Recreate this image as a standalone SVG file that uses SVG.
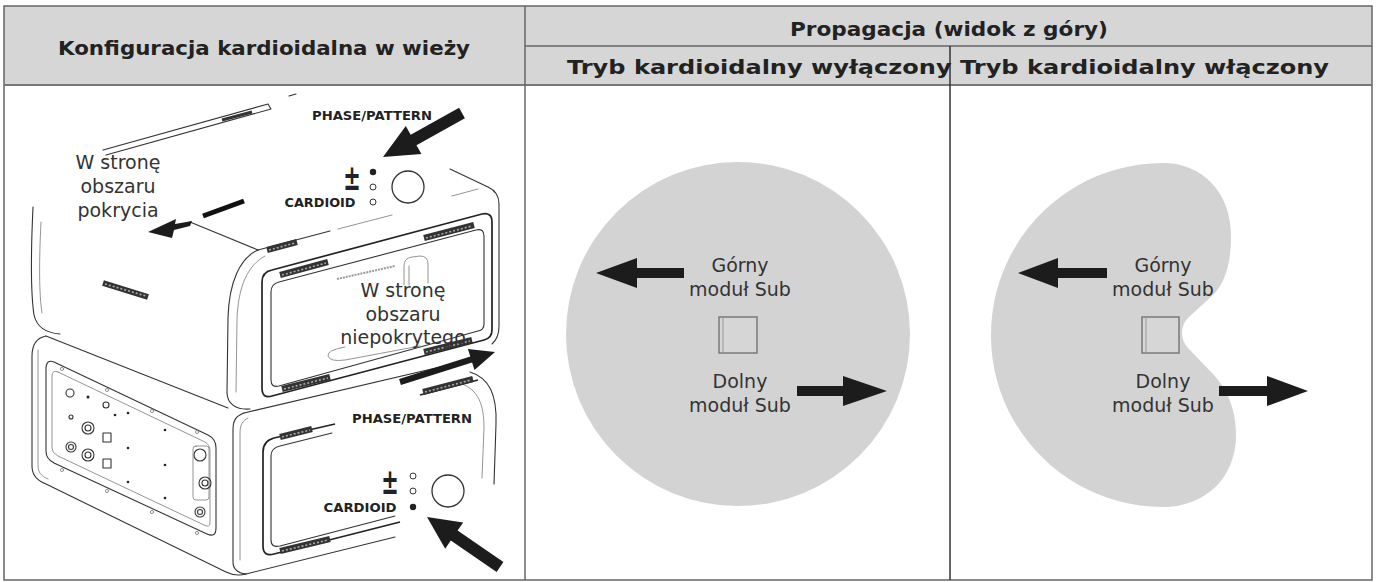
<svg xmlns="http://www.w3.org/2000/svg" width="1376" height="582" viewBox="0 0 1376 582">
<defs>
<style>
.hd{font-family:"DejaVu Sans","Liberation Sans",sans-serif;font-weight:bold;font-size:20px;fill:#222}
.lb{font-family:"DejaVu Sans","Liberation Sans",sans-serif;font-size:19px;fill:#333}
.ctl{font-family:"DejaVu Sans","Liberation Sans",sans-serif;font-weight:bold;font-size:12px;fill:#222}
.sym{font-family:"DejaVu Sans","Liberation Sans",sans-serif;font-weight:bold;font-size:22px;fill:#222}
.grid{stroke:#666;stroke-width:1.5;fill:none}
.ln{fill:none;stroke:#333;stroke-width:1.1;stroke-linecap:round;stroke-linejoin:round}
.lt{fill:none;stroke:#888;stroke-width:0.9;stroke-linecap:round}
.hv{fill:none;stroke:#222;stroke-width:1.7;stroke-linejoin:round}
.strip{stroke:#333;stroke-width:6}
.stripi{stroke:#aaa;stroke-width:1.6;stroke-dasharray:2 2}
.arr{fill:#1c1c1c}
.zone{fill:#d3d3d3}
.sq{fill:#d6d6d6;stroke:#7a7a7a;stroke-width:1.5}
.dotf{fill:#222}
.doto{fill:#fff;stroke:#333;stroke-width:1}
</style>
</defs>
<rect width="1376" height="582" fill="#fff"/>

<g id="table">
<rect x="4" y="6" width="1368" height="79" fill="#d6d6d6"/>
<rect x="4" y="6" width="1368" height="574" class="grid"/>
<line x1="4" y1="85" x2="1372" y2="85" stroke="#777" stroke-width="2"/>
<line x1="525" y1="46" x2="1372" y2="46" class="grid"/>
<line x1="525" y1="6" x2="525" y2="580" class="grid"/>
<line x1="950" y1="46" x2="950" y2="580" stroke="#333" stroke-width="1.5"/>
</g>

<g id="header-left">
<text class="hd" x="264" y="55" text-anchor="middle" textLength="412" lengthAdjust="spacingAndGlyphs">Konfiguracja kardioidalna w wieży</text>
</g>
<g id="header-right">
<text class="hd" x="949" y="36" text-anchor="middle" textLength="318" lengthAdjust="spacingAndGlyphs">Propagacja (widok z góry)</text>
<text class="hd" x="948" y="74" text-anchor="middle" textLength="762" lengthAdjust="spacingAndGlyphs">Tryb kardioidalny wyłączony Tryb kardioidalny włączony</text>
</g>

<g id="tower">
<g id="lower-box">
<path class="ln" d="M46 336 C36 338 32 345 32 356 L32 466 C32 476 38 481 46 484 L226 572 C232 575 238 576 246 574"/>
<path class="lt" d="M38 350 L38 466 C38 472 41 476 48 479"/>
<path class="ln" d="M46 336 L228 408"/>
<path class="ln" d="M244 413 C236 416 233 420 233 430 L233 562 C233 569 238 573 246 574"/>
<path class="lt" d="M248 418 C242 421 240 425 240 434 L240 560"/>
<path class="ln" d="M244 413 L470 360"/>
<path class="ln" d="M246 574 L395 537"/>
<path class="ln" d="M470 372 C490 378 497 396 496 424 L494 484"/>
<path class="lt" d="M462 384 C478 390 484 404 484 428 L482 478"/>
<path class="hv" d="M335 424 L274 438 Q263 441 263 452 L263 546 Q263 557 274 554 L400 522"/>
<path class="ln" d="M332 433 L280 446 Q271 448 271 456 L271 540 Q271 548 280 546 L395 516"/>
<path class="hv" d="M420 395 L478 380"/>
<line class="strip" x1="280" y1="437" x2="312" y2="429"/><line class="stripi" x1="282" y1="437" x2="310" y2="430"/>
<line class="strip" x1="423" y1="392" x2="473" y2="379"/><line class="stripi" x1="425" y1="392" x2="471" y2="380"/>
<line class="strip" x1="280" y1="551" x2="330" y2="539"/><line class="stripi" x1="282" y1="551" x2="328" y2="540"/>
<path class="ln" d="M54 362 L208 435 Q216 439 216 448 L216 528 Q216 538 207 534 L54 463 Q46 459 46 451 L46 369 Q46 359 54 362 Z"/>
<path class="lt" d="M58 372 L205 442 Q210 445 210 451 L210 523 Q210 528 204 525 L58 456 Q52 453 52 448 L52 377 Q52 369 58 372 Z"/>
<rect class="lt" x="193" y="446" width="16" height="54" rx="3"/>
<g class="lt">
<circle cx="62" cy="369" r="1.6"/><circle cx="107" cy="390" r="1.6"/><circle cx="152" cy="411" r="1.6"/><circle cx="197" cy="432" r="1.6"/>
<circle cx="62" cy="470" r="1.6"/><circle cx="107" cy="491" r="1.6"/><circle cx="152" cy="512" r="1.6"/><circle cx="197" cy="533" r="1.6"/>
</g>
<g class="ln">
<circle cx="70" cy="393" r="4"/><circle cx="106" cy="405" r="3"/><circle cx="71" cy="417" r="2"/>
<circle cx="88" cy="428" r="6"/><circle cx="88" cy="428" r="3"/>
<rect x="103" y="433" width="8" height="9"/>
<circle cx="71" cy="447" r="5"/><circle cx="71" cy="447" r="2.5"/>
<circle cx="88" cy="455" r="6"/><circle cx="88" cy="455" r="3"/>
<rect x="103" y="459" width="8" height="9"/>
<circle cx="200" cy="455" r="6"/>
<circle cx="205" cy="483" r="6"/><circle cx="205" cy="483" r="3"/>
<circle cx="200" cy="512" r="5"/><circle cx="200" cy="512" r="2.5"/>
</g>
<g class="dotf">
<circle cx="88" cy="397" r="1.5"/><circle cx="115" cy="415" r="1.3"/><circle cx="128" cy="413" r="1.3"/>
<circle cx="128" cy="448" r="1.3"/><circle cx="165" cy="430" r="1.3"/><circle cx="165" cy="465" r="1.3"/>
<circle cx="128" cy="482" r="1.3"/><circle cx="165" cy="498" r="1.3"/>
</g>
<text class="ctl" x="412" y="423" text-anchor="middle" textLength="120" lengthAdjust="spacingAndGlyphs">PHASE/PATTERN</text>
<text class="sym" transform="translate(390,494) scale(0.95,1.6)" text-anchor="middle">±</text>
<text class="ctl" x="360" y="512" text-anchor="middle" textLength="73" lengthAdjust="spacingAndGlyphs">CARDIOID</text>
<circle class="doto" cx="413" cy="476" r="3"/>
<circle class="doto" cx="413" cy="491" r="3"/>
<circle class="dotf" cx="413" cy="507" r="3.2"/>
<circle cx="448" cy="491" r="16" fill="none" stroke="#333" stroke-width="1.3"/>
</g>

<g id="upper-box">
<path class="ln" d="M103 150 L268 104 L271 109 L106 155"/>
<line x1="222" y1="120" x2="252" y2="112" stroke="#333" stroke-width="3"/>
<path class="ln" d="M289 96 L296 94"/>
<path class="ln" d="M33 207 C31 250 31 295 34 315 C37 328 46 333 60 334"/>
<path class="lt" d="M41 222 C39 260 39 295 42 313"/>
<path class="ln" d="M190 222 L258 250"/>
<line x1="203" y1="216" x2="244" y2="201" stroke="#111" stroke-width="5"/>
<line class="strip" x1="103" y1="283" x2="148" y2="297"/><line class="stripi" x1="105" y1="284" x2="146" y2="296"/>
<path class="ln" d="M258 250 C240 258 229 282 228 318 L227 392 C227 404 236 410 250 409"/>
<path class="lt" d="M265 256 C248 265 238 286 237 320 L236 392"/>
<path class="ln" d="M258 250 L330 231"/>
<path class="lt" d="M338 229 L392 215"/>
<line class="strip" x1="267" y1="250" x2="297" y2="242"/><line class="stripi" x1="269" y1="250" x2="295" y2="243"/>
<path class="ln" d="M450 169 L488 187 Q499 192 499 204 L499 326 Q499 338 492 344"/>
<path class="lt" d="M452 196 L478 189"/>
<path class="hv" d="M262 282 Q262 272 272 270 L482 214 Q492 212 492 222 L492 330 Q492 338 484 340 L272 396 Q262 399 262 388 Z"/>
<path class="ln" d="M271 292 Q271 284 279 282 L476 230 Q484 228 484 236 L484 324 Q484 330 478 331 L279 386 Q271 388 271 380 Z"/>
<line class="strip" x1="280" y1="275" x2="328" y2="262"/><line class="stripi" x1="282" y1="275" x2="326" y2="263"/>
<line class="strip" x1="424" y1="238" x2="474" y2="225"/><line class="stripi" x1="426" y1="238" x2="472" y2="226"/>
<line class="strip" x1="282" y1="389" x2="330" y2="377"/><line class="stripi" x1="284" y1="389" x2="328" y2="378"/>
<line class="strip" x1="424" y1="352" x2="472" y2="340"/><line class="stripi" x1="426" y1="352" x2="470" y2="341"/>
<path class="lt" d="M404 285 L404 266 Q404 258 412 257 L420 256 Q428 256 428 264 L428 283"/>
<path class="lt" d="M409 285 L409 266"/>
<line x1="337" y1="279" x2="395" y2="266" stroke="#999" stroke-width="2" stroke-dasharray="2 1"/>
<path class="lt" d="M345 347 Q327 350 328 356 Q330 362 345 360 L420 346"/>
<text class="ctl" x="372" y="120" text-anchor="middle" textLength="120" lengthAdjust="spacingAndGlyphs">PHASE/PATTERN</text>
<text class="sym" transform="translate(352,190) scale(0.95,1.6)" text-anchor="middle">±</text>
<text class="ctl" x="320" y="207" text-anchor="middle" textLength="71" lengthAdjust="spacingAndGlyphs">CARDIOID</text>
<circle class="dotf" cx="373" cy="172" r="3.2"/>
<circle class="doto" cx="373" cy="187" r="3"/>
<circle class="doto" cx="373" cy="202" r="3"/>
<circle cx="408" cy="187" r="16" fill="none" stroke="#333" stroke-width="1.3"/>
</g>

<g id="tower-labels">
<text class="lb" x="118" y="169" text-anchor="middle">W stronę</text>
<text class="lb" x="118" y="193" text-anchor="middle">obszaru</text>
<text class="lb" x="118" y="217" text-anchor="middle">pokrycia</text>
<text class="lb" x="403" y="297" text-anchor="middle">W stronę</text>
<text class="lb" x="403" y="321" text-anchor="middle">obszaru</text>
<text class="lb" x="403" y="344" text-anchor="middle">niepokrytego</text>
</g>
</g>

<g id="pattern-off">
<circle class="zone" cx="738" cy="334" r="172"/>
<rect class="sq" x="719" y="317" width="38" height="36"/>
<line x1="723" y1="317" x2="723" y2="353" stroke="#999" stroke-width="1"/>
<text class="lb" x="740" y="272" text-anchor="middle">Górny</text>
<text class="lb" x="740" y="296" text-anchor="middle">moduł Sub</text>
<text class="lb" x="740" y="388" text-anchor="middle">Dolny</text>
<text class="lb" x="740" y="412" text-anchor="middle">moduł Sub</text>
</g>

<g id="pattern-on">
<path class="zone" d="M1163 163 C1202 163 1231 192 1231 236 C1231 262 1226 280 1215 293 L1188 318 C1180 326 1180 340 1188 348 L1213 374 C1228 390 1236 410 1236 435 C1236 478 1205 507 1163 507 C1068 507 991 430 991 335 C991 240 1068 163 1163 163 Z"/>
<rect class="sq" x="1142" y="317" width="37" height="36"/>
<line x1="1146" y1="317" x2="1146" y2="353" stroke="#999" stroke-width="1"/>
<text class="lb" x="1163" y="272" text-anchor="middle">Górny</text>
<text class="lb" x="1163" y="296" text-anchor="middle">moduł Sub</text>
<text class="lb" x="1163" y="388" text-anchor="middle">Dolny</text>
<text class="lb" x="1163" y="412" text-anchor="middle">moduł Sub</text>
</g>

<g id="arrows">
<polygon class="arr" points="464.9,118.2 416.5,145.2 421.4,154 383,157 405.8,126 410.7,134.8 459.1,107.8"/>
<polygon class="arr" points="503.4,562.1 457.6,530.6 463.2,522.4 427,517 445.2,548.8 450.8,540.6 496.6,571.9"/>
<polygon class="arr" points="400.9,384.9 472.1,362.4 474.5,370 495,352 467.9,349 470.3,356.6 399.1,379.1"/>
<polygon class="arr" points="148,232 176,219 175,224 192,221 190,226 174,230 172,238"/>
<polygon class="arr" points="596,273 637,258 637,268 684,268 684,278 637,278 637,288"/>
<polygon class="arr" points="797,386 843,386 843,376 887,391 843,406 843,396 797,396"/>
<polygon class="arr" points="1018,273 1058,258 1058,268 1107,268 1107,278 1058,278 1058,288"/>
<polygon class="arr" points="1219,386 1267,386 1267,376 1308,391 1267,406 1267,396 1219,396"/>
</g>
</svg>
